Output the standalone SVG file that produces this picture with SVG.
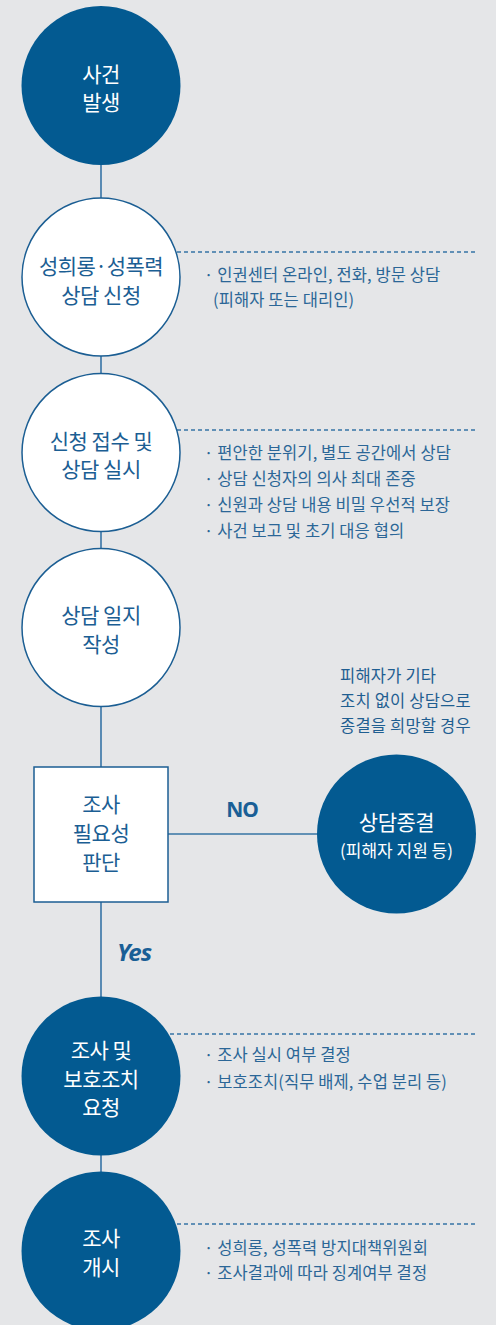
<svg xmlns="http://www.w3.org/2000/svg" width="496" height="1325" viewBox="0 0 496 1325">
<style>
.bg{fill:#e5e6e8}
.dark{fill:#035a91}
.light{fill:#ffffff;stroke:#1b5e93;stroke-width:1.5}
.conn{stroke:#3674a5;stroke-width:1.6;fill:none}
.dash{stroke:#3674a5;stroke-width:1.5;stroke-dasharray:4 3;fill:none}
.lw{font-family:"Noto Sans CJK KR","Noto Sans",sans-serif;font-size:21px;fill:#ffffff;text-anchor:middle;letter-spacing:-0.5px}
.lb{font-family:"Noto Sans CJK KR","Noto Sans",sans-serif;font-size:21px;fill:#1b5e93;text-anchor:middle;letter-spacing:-0.5px}
.bul{font-family:"Noto Sans CJK KR","Noto Sans",sans-serif;font-size:16.5px;fill:#2b6697;letter-spacing:0.1px}
.note{font-family:"Noto Sans CJK KR","Noto Sans",sans-serif;font-size:16.5px;fill:#1f5e91;letter-spacing:0.2px}
.hand{font-family:"Noto Sans",sans-serif;fill:#1a5f96;font-weight:700}
</style>
<rect class="bg" x="0" y="0" width="496" height="1325"/>
<g id="connectors">
<line class="conn" x1="101" y1="164" x2="101" y2="198"/>
<line class="conn" x1="101" y1="356" x2="101" y2="373"/>
<line class="conn" x1="101" y1="532" x2="101" y2="548"/>
<line class="conn" x1="101" y1="707" x2="101" y2="767"/>
<line class="conn" x1="101" y1="902" x2="101" y2="998"/>
<line class="conn" x1="101" y1="1155" x2="101" y2="1173"/>
<line class="conn" x1="168" y1="834" x2="318" y2="834"/>
<line class="dash" x1="177" y1="252" x2="477" y2="252"/>
<line class="dash" x1="177" y1="430" x2="477" y2="430"/>
<line class="dash" x1="170" y1="1034" x2="477" y2="1034"/>
<line class="dash" x1="177" y1="1224" x2="477" y2="1224"/>
<text class="hand" x="242" y="817" text-anchor="middle" font-size="21" letter-spacing="-1">NO</text>
<text class="hand" x="134" y="961" text-anchor="middle" font-size="24" font-style="italic" letter-spacing="-1">Yes</text>
</g>
<g id="n1">
<circle class="dark" cx="101" cy="85.5" r="79.5"/>
<text class="lw" x="101" y="82">사건</text>
<text class="lw" x="101" y="110">발생</text>
</g>
<g id="n2">
<circle class="light" cx="101" cy="277" r="79"/>
<text class="lb" x="101" y="274">성희롱·성폭력</text>
<text class="lb" x="101" y="303">상담 신청</text>
<text class="bul" x="204" y="281">· 인권센터 온라인, 전화, 방문 상담</text>
<text class="bul" x="213" y="306">(피해자 또는 대리인)</text>
</g>
<g id="n3">
<circle class="light" cx="101" cy="452.5" r="79"/>
<text class="lb" x="101" y="449">신청 접수 및</text>
<text class="lb" x="101" y="477">상담 실시</text>
<text class="bul" x="204" y="459">· 편안한 분위기, 별도 공간에서 상담</text>
<text class="bul" x="204" y="485">· 상담 신청자의 의사 최대 존중</text>
<text class="bul" x="204" y="511">· 신원과 상담 내용 비밀 우선적 보장</text>
<text class="bul" x="204" y="537">· 사건 보고 및 초기 대응 협의</text>
</g>
<g id="n4">
<circle class="light" cx="101" cy="627.5" r="79"/>
<text class="lb" x="101" y="623">상담 일지</text>
<text class="lb" x="101" y="652">작성</text>
</g>
<g id="n5">
<rect class="light" x="34" y="767" width="134" height="135"/>
<text class="lb" x="101" y="812">조사</text>
<text class="lb" x="101" y="841">필요성</text>
<text class="lb" x="101" y="870">판단</text>
</g>
<g id="n6">
<circle class="dark" cx="396.5" cy="834" r="79.5"/>
<text class="lw" x="396.5" y="830">상담종결</text>
<text class="lw" x="396.5" y="857" style="font-size:17px;letter-spacing:0">(피해자 지원 등)</text>
<text class="note" x="340" y="682">피해자가 기타</text>
<text class="note" x="340" y="707">조치 없이 상담으로</text>
<text class="note" x="340" y="732">종결을 희망할 경우</text>
</g>
<g id="n7">
<circle class="dark" cx="101" cy="1076" r="79.5"/>
<text class="lw" x="101" y="1058">조사 및</text>
<text class="lw" x="101" y="1087">보호조치</text>
<text class="lw" x="101" y="1115">요청</text>
<text class="bul" x="204" y="1061">· 조사 실시 여부 결정</text>
<text class="bul" x="204" y="1088">· 보호조치(직무 배제, 수업 분리 등)</text>
</g>
<g id="n8">
<circle class="dark" cx="101" cy="1251" r="79.5"/>
<text class="lw" x="101" y="1246">조사</text>
<text class="lw" x="101" y="1275">개시</text>
<text class="bul" x="204" y="1254">· 성희롱, 성폭력 방지대책위원회</text>
<text class="bul" x="204" y="1279">· 조사결과에 따라 징계여부 결정</text>
</g>
</svg>
